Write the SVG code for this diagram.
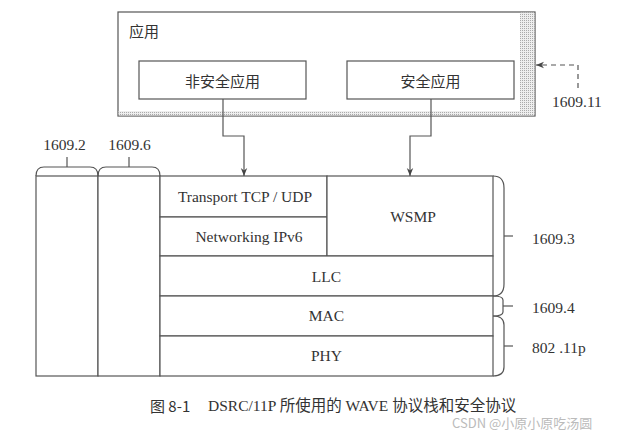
<svg xmlns="http://www.w3.org/2000/svg" width="623" height="433" viewBox="0 0 623 433">
<defs>
<style>
.ln{fill:none;stroke:#555;stroke-width:1.2}
.bx{fill:#fff;stroke:#555;stroke-width:1.2}
.t{font-family:"Liberation Serif","Noto Sans CJK SC",serif;font-size:15.5px;fill:#333;text-anchor:middle;dominant-baseline:central}
.s{text-anchor:start}
.cn{font-family:"Noto Sans CJK SC","Liberation Serif",sans-serif;font-size:15px;fill:#333;dominant-baseline:central}
.wm{font-family:"Noto Sans CJK SC","Liberation Sans",sans-serif;font-size:13px;fill:#bbb;dominant-baseline:central}
</style>
<pattern id="dots" width="2" height="2" patternUnits="userSpaceOnUse">
<rect width="2" height="2" fill="#eee"/>
<rect width="1" height="1" fill="#aaa"/>
</pattern>
<marker id="ah" viewBox="0 0 10 10" refX="10" refY="5" markerWidth="8" markerHeight="8" orient="auto" markerUnits="userSpaceOnUse">
<path d="M0,1 L10,5 L0,9 L3,5 Z" fill="#444"/>
</marker>
</defs>
<rect width="623" height="433" fill="#fff"/>

<g id="app">
<rect x="118" y="12" width="417" height="104" class="bx"/>
<rect x="520" y="12.6" width="14.4" height="102.8" fill="url(#dots)"/>
<rect x="118.6" y="111" width="402" height="4.4" fill="url(#dots)"/>
<text x="129" y="30" class="cn">应用</text>
</g>
<g id="nonsafety">
<rect x="139" y="61" width="167" height="38" class="bx"/>
<text x="222.5" y="80" class="t" style="font-family:'Noto Sans CJK SC',sans-serif;font-size:15px">非安全应用</text>
</g>
<g id="safety">
<rect x="347" y="61" width="167" height="38" class="bx"/>
<text x="430.5" y="80" class="t" style="font-family:'Noto Sans CJK SC',sans-serif;font-size:15px">安全应用</text>
</g>

<g id="col1">
<rect x="36" y="176" width="62" height="200" class="bx"/>
<path d="M36,176 Q36,167 44,167 L90,167 Q98,167 98,176" class="ln"/>
<line x1="67" y1="167" x2="67" y2="157" class="ln"/>
<text x="64.5" y="144" class="t">1609.2</text>
</g>
<g id="col2">
<rect x="98" y="176" width="62" height="200" class="bx"/>
<path d="M98,176 Q98,167 106,167 L152,167 Q160,167 160,176" class="ln"/>
<line x1="129" y1="167" x2="129" y2="157" class="ln"/>
<text x="129.5" y="144" class="t">1609.6</text>
</g>

<g id="transport">
<rect x="160" y="176" width="167" height="41" class="bx"/>
<text x="245" y="196.5" class="t">Transport TCP / UDP</text>
</g>
<g id="networking">
<rect x="160" y="217" width="167" height="39" class="bx"/>
<text x="249" y="236.5" class="t">Networking IPv6</text>
</g>
<g id="wsmp">
<rect x="327" y="176" width="166" height="80" class="bx"/>
<text x="413" y="216.5" class="t">WSMP</text>
</g>
<g id="llc">
<rect x="160" y="256" width="333" height="40" class="bx"/>
<text x="326.5" y="276" class="t">LLC</text>
</g>
<g id="mac">
<rect x="160" y="296" width="333" height="40" class="bx"/>
<text x="326.5" y="315.5" class="t">MAC</text>
</g>
<g id="phy">
<rect x="160" y="336" width="333" height="40" class="bx"/>
<text x="326.5" y="355.5" class="t">PHY</text>
</g>

<g id="brace-1609-3">
<path d="M493,176 Q504,176 504,188 L504,284 Q504,296 493,296" class="ln"/>
<line x1="504" y1="236" x2="513" y2="236" class="ln"/>
<text x="532" y="238" class="t s">1609.3</text>
</g>
<g id="brace-1609-4">
<path d="M493,296 Q503,296 503,300 L503,312 Q503,316 493,316" class="ln"/>
<line x1="503" y1="306" x2="513" y2="306" class="ln"/>
<text x="532" y="307" class="t s">1609.4</text>
</g>
<g id="brace-80211p">
<path d="M493,316 Q504,316 504,325 L504,367 Q504,376 493,376" class="ln"/>
<line x1="504" y1="346" x2="513" y2="346" class="ln"/>
<text x="532" y="347" class="t s">802 .11p</text>
</g>

<g id="connectors">
<path d="M223,99 V136 H244 V176" class="ln" marker-end="url(#ah)"/>
<path d="M431,99 V136 H410 V176" class="ln" marker-end="url(#ah)"/>
<path d="M578,88 V65 H536" class="ln" stroke-dasharray="5,4" marker-end="url(#ah)"/>
<text x="552" y="101" class="t s">1609.11</text>
</g>

<g id="caption">
<text x="150" y="405" class="cn">图 8-1</text>
<text x="208" y="405" class="t s" style="font-size:15.5px">DSRC/11P 所使用的 WAVE 协议栈和安全协议</text>
<text x="452" y="422" class="wm">CSDN @小原小原吃汤圆</text>
</g>
</svg>
